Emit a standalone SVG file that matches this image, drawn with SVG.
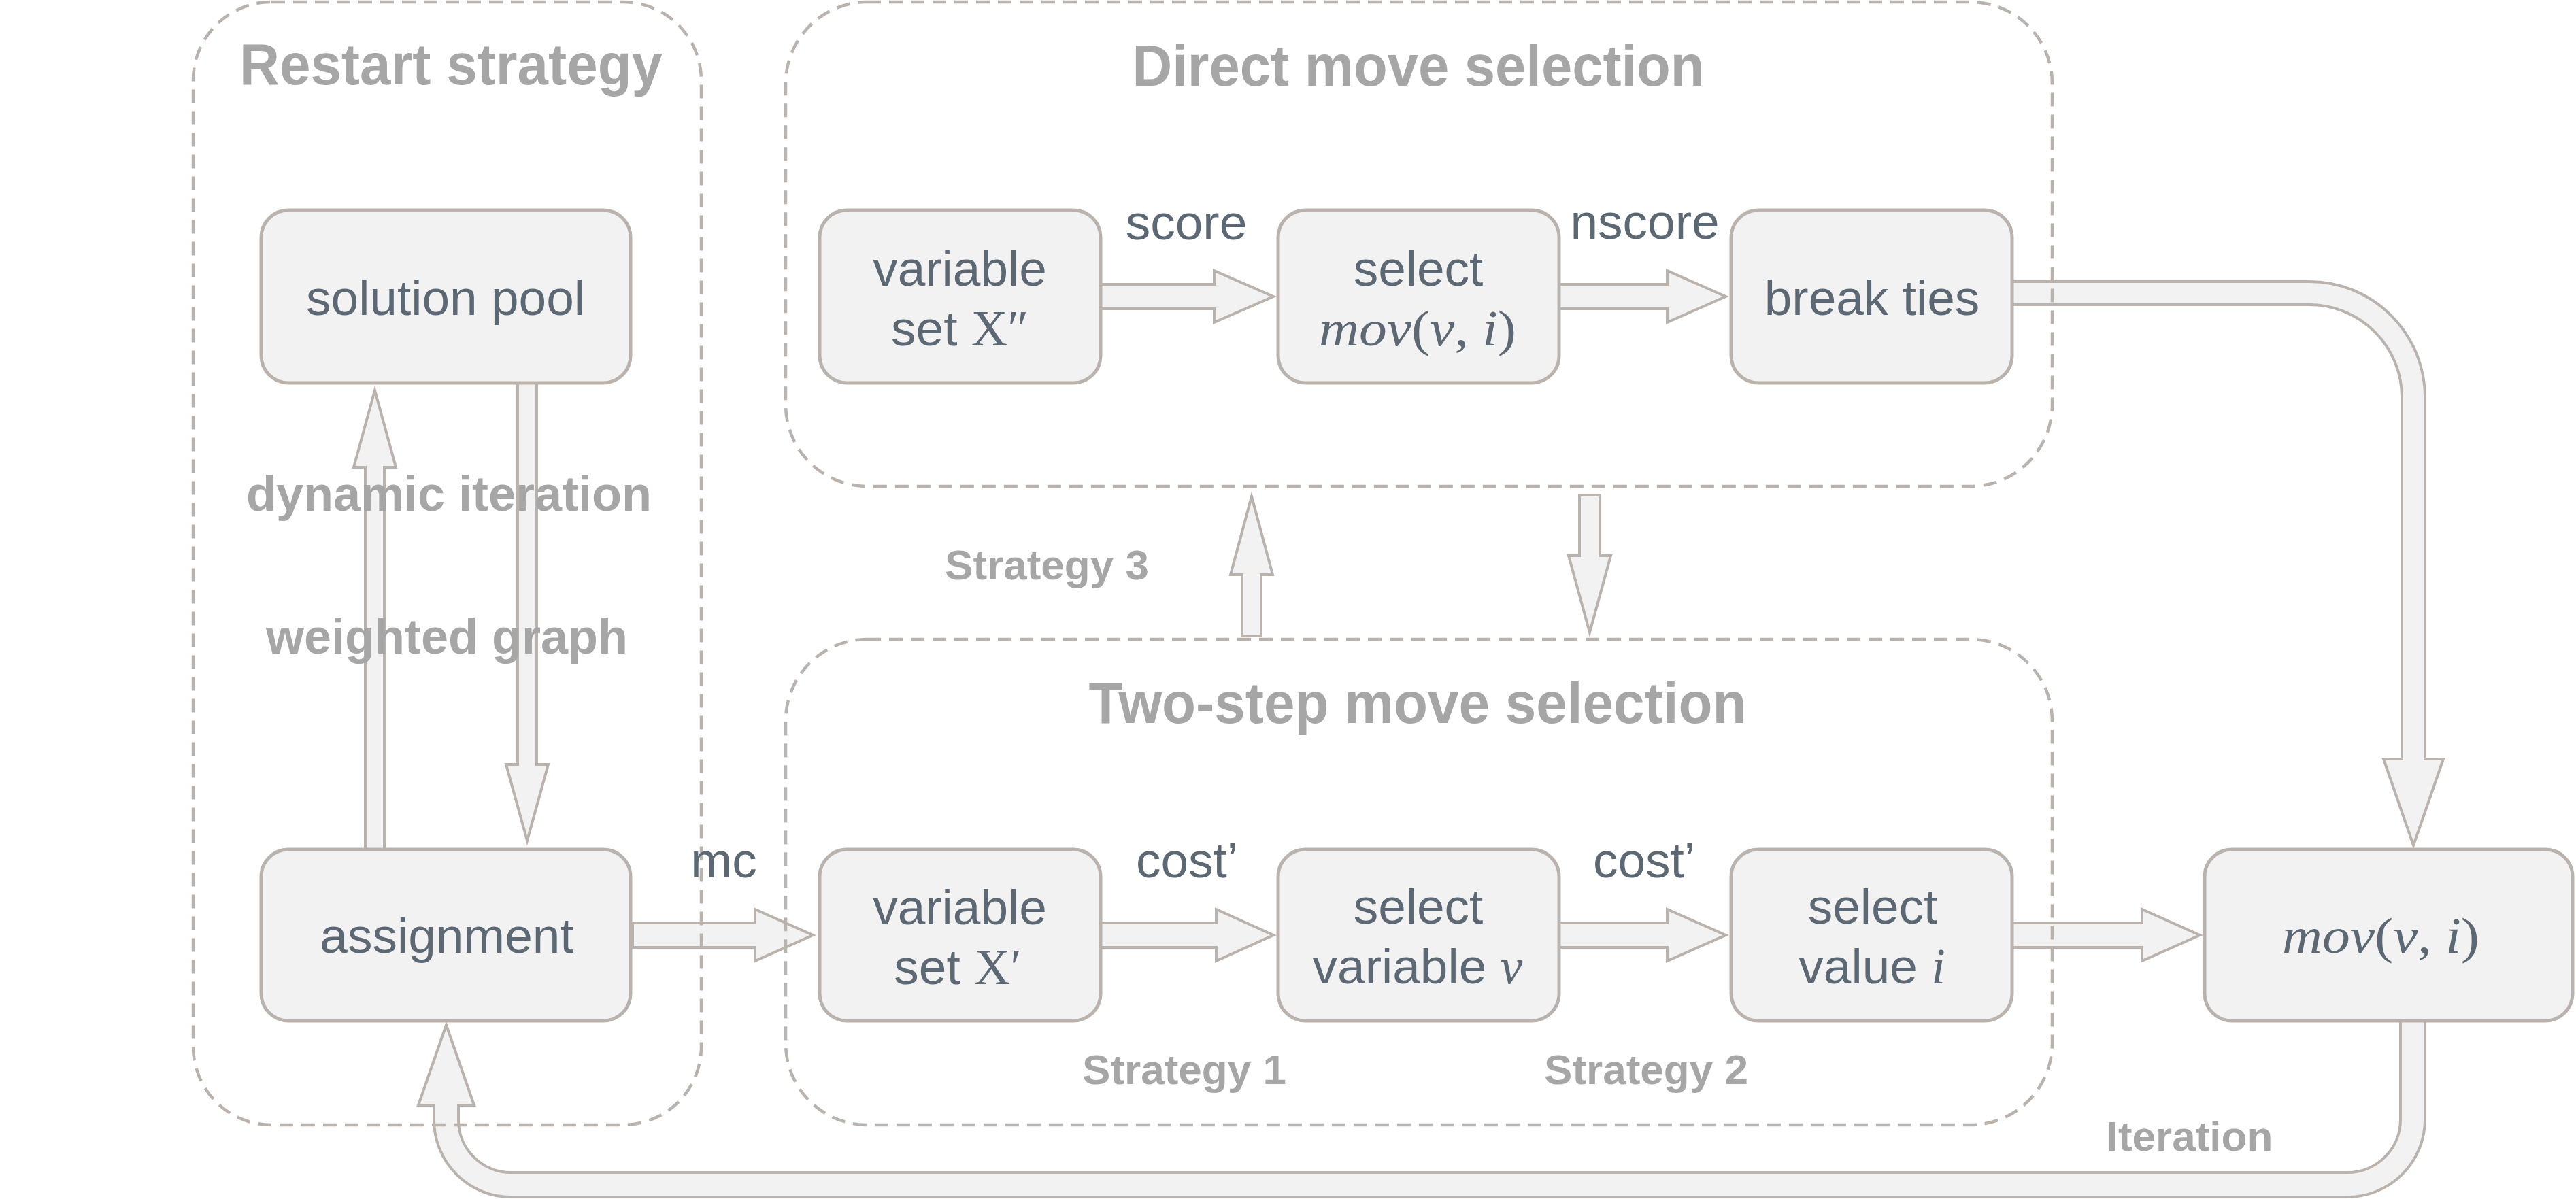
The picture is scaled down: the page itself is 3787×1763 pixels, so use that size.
<svg xmlns="http://www.w3.org/2000/svg" width="3787" height="1763" viewBox="0 0 3787 1763">
<style>
.bg{fill:#ffffff}
.box{fill:#f2f2f2;stroke:#bab3ad;stroke-width:5}
.cont{fill:none;stroke:#bab3ad;stroke-width:4.5;stroke-dasharray:20 12}
.arr{fill:#f2f2f2;stroke:#bab3ad;stroke-width:4;stroke-linejoin:miter;stroke-miterlimit:12}
.bandO{fill:none;stroke:#bab3ad;stroke-width:40}
.bandI{fill:none;stroke:#f2f2f2;stroke-width:32}
.t{font-family:"Liberation Sans",Arial,sans-serif;font-size:73px;fill:#5c6873;text-anchor:middle}
.m{font-family:"Liberation Serif","Times New Roman",serif;font-size:74px;fill:#5c6873}
.mi{font-style:italic}
.title{font-family:"Liberation Sans",Arial,sans-serif;font-weight:bold;font-size:85px;fill:#a6a6a6;text-anchor:middle}
.lab{font-family:"Liberation Sans",Arial,sans-serif;font-weight:bold;font-size:72px;fill:#a6a6a6;text-anchor:middle}
.st{font-family:"Liberation Sans",Arial,sans-serif;font-weight:bold;font-size:62px;fill:#a6a6a6;text-anchor:middle}
</style>
<rect class="bg" x="0" y="0" width="3787" height="1763"/>

<g id="connectors">
  <polygon class="arr" points="1618,418 1785,418 1785,398 1872,436 1785,474 1785,454 1618,454"/>
  <polygon class="arr" points="2292,418 2451,418 2451,398 2537,436 2451,474 2451,454 2292,454"/>
  <polygon class="arr" points="930,1357 1110,1357 1110,1337 1195,1375 1110,1413 1110,1393 930,1393"/>
  <polygon class="arr" points="1618,1357 1788,1357 1788,1337 1872,1375 1788,1413 1788,1393 1618,1393"/>
  <polygon class="arr" points="2292,1357 2451,1357 2451,1337 2537,1375 2451,1413 2451,1393 2292,1393"/>
  <polygon class="arr" points="2958,1357 3149,1357 3149,1337 3234,1375 3149,1413 3149,1393 2958,1393"/>
  <polygon class="arr" points="537,1249 537,687 520,687 551,574 582,687 565,687 565,1249"/>
  <polygon class="arr" points="761,563 761,1124 744,1124 775,1236 806,1124 789,1124 789,563"/>
  <polygon class="arr" points="1826,935 1826,845 1809,845 1840,730 1871,845 1854,845 1854,935"/>
  <polygon class="arr" points="2322,728 2322,817 2306,817 2337,930 2368,817 2352,817 2352,728"/>
  <g id="edge-breakties-mov">
    <path class="bandO" style="stroke-width:38" d="M2958,431 H3395 A153,153 0 0 1 3548,584 V1122"/>
    <polygon class="arr" points="3504,1116 3592,1116 3548,1243"/>
    <path class="bandI" style="stroke-width:30" d="M2958,431 H3395 A153,153 0 0 1 3548,584 V1123"/>
  </g>
  <g id="edge-iteration">
    <path class="bandO" d="M3547,1500 V1646 A96,96 0 0 1 3451,1742 H751 A95,95 0 0 1 656,1647 V1619"/>
    <polygon class="arr" points="615,1625 697,1625 656,1507"/>
    <path class="bandI" d="M3547,1500 V1646 A96,96 0 0 1 3451,1742 H751 A95,95 0 0 1 656,1647 V1618"/>
  </g>
</g>

<g id="containers">
  <g id="restart-strategy">
    <rect class="cont" x="284" y="3" width="747" height="1651" rx="115" ry="115"/>
    <text class="title" x="663" y="124" textLength="622" lengthAdjust="spacingAndGlyphs">Restart strategy</text>
  </g>
  <g id="direct-move-selection">
    <rect class="cont" x="1155" y="3" width="1862" height="712" rx="120" ry="120"/>
    <text class="title" x="2085" y="126" textLength="841" lengthAdjust="spacingAndGlyphs">Direct move selection</text>
  </g>
  <g id="two-step-move-selection">
    <rect class="cont" x="1155" y="940" width="1862" height="714" rx="120" ry="120"/>
    <text class="title" x="2084" y="1063" textLength="967" lengthAdjust="spacingAndGlyphs">Two-step move selection</text>
  </g>
</g>

<g id="node-solution-pool">
  <rect class="box" x="384" y="309" width="543" height="254" rx="40" ry="40"/>
  <text class="t" x="655" y="463">solution pool</text>
</g>
<g id="node-assignment">
  <rect class="box" x="384" y="1249" width="543" height="252" rx="40" ry="40"/>
  <text class="t" x="657" y="1401">assignment</text>
</g>
<g id="node-variable-set-x2">
  <rect class="box" x="1205" y="309" width="413" height="254" rx="40" ry="40"/>
  <text class="t" x="1411" y="420">variable</text>
  <text class="t" x="1411" y="508">set <tspan class="m">X″</tspan></text>
</g>
<g id="node-select-mov">
  <rect class="box" x="1879" y="309" width="413" height="254" rx="40" ry="40"/>
  <text class="t" x="2085" y="420">select</text>
  <text class="m" x="1939" y="508" textLength="290" lengthAdjust="spacingAndGlyphs"><tspan class="mi">mov</tspan>(<tspan class="mi">v</tspan>, <tspan class="mi">i</tspan>)</text>
</g>
<g id="node-break-ties">
  <rect class="box" x="2545" y="309" width="413" height="254" rx="40" ry="40"/>
  <text class="t" x="2752" y="463">break ties</text>
</g>
<g id="node-variable-set-x1">
  <rect class="box" x="1205" y="1249" width="413" height="252" rx="40" ry="40"/>
  <text class="t" x="1411" y="1359">variable</text>
  <text class="t" x="1408" y="1447">set <tspan class="m">X′</tspan></text>
</g>
<g id="node-select-variable">
  <rect class="box" x="1879" y="1249" width="413" height="252" rx="40" ry="40"/>
  <text class="t" x="2085" y="1358">select</text>
  <text class="t" x="2084" y="1446">variable <tspan class="m mi">v</tspan></text>
</g>
<g id="node-select-value">
  <rect class="box" x="2545" y="1249" width="413" height="252" rx="40" ry="40"/>
  <text class="t" x="2753" y="1358">select</text>
  <text class="t" x="2752" y="1446">value <tspan class="m mi">i</tspan></text>
</g>
<g id="node-mov">
  <rect class="box" x="3241" y="1249" width="541" height="252" rx="40" ry="40"/>
  <text class="m" x="3355" y="1401" textLength="290" lengthAdjust="spacingAndGlyphs"><tspan class="mi">mov</tspan>(<tspan class="mi">v</tspan>, <tspan class="mi">i</tspan>)</text>
</g>

<g id="labels">
  <text class="t" x="1744" y="352">score</text>
  <text class="t" x="2418" y="351">nscore</text>
  <text class="t" x="1064" y="1290">mc</text>
  <text class="t" x="1745" y="1290">cost’</text>
  <text class="t" x="2417" y="1290">cost’</text>
  <text class="lab" x="660" y="751">dynamic iteration</text>
  <text class="lab" x="657" y="961">weighted graph</text>
  <text class="st" x="1539" y="852">Strategy 3</text>
  <text class="st" x="1741" y="1594">Strategy 1</text>
  <text class="st" x="2420" y="1594">Strategy 2</text>
  <text class="st" x="3219" y="1692">Iteration</text>
</g>
</svg>
